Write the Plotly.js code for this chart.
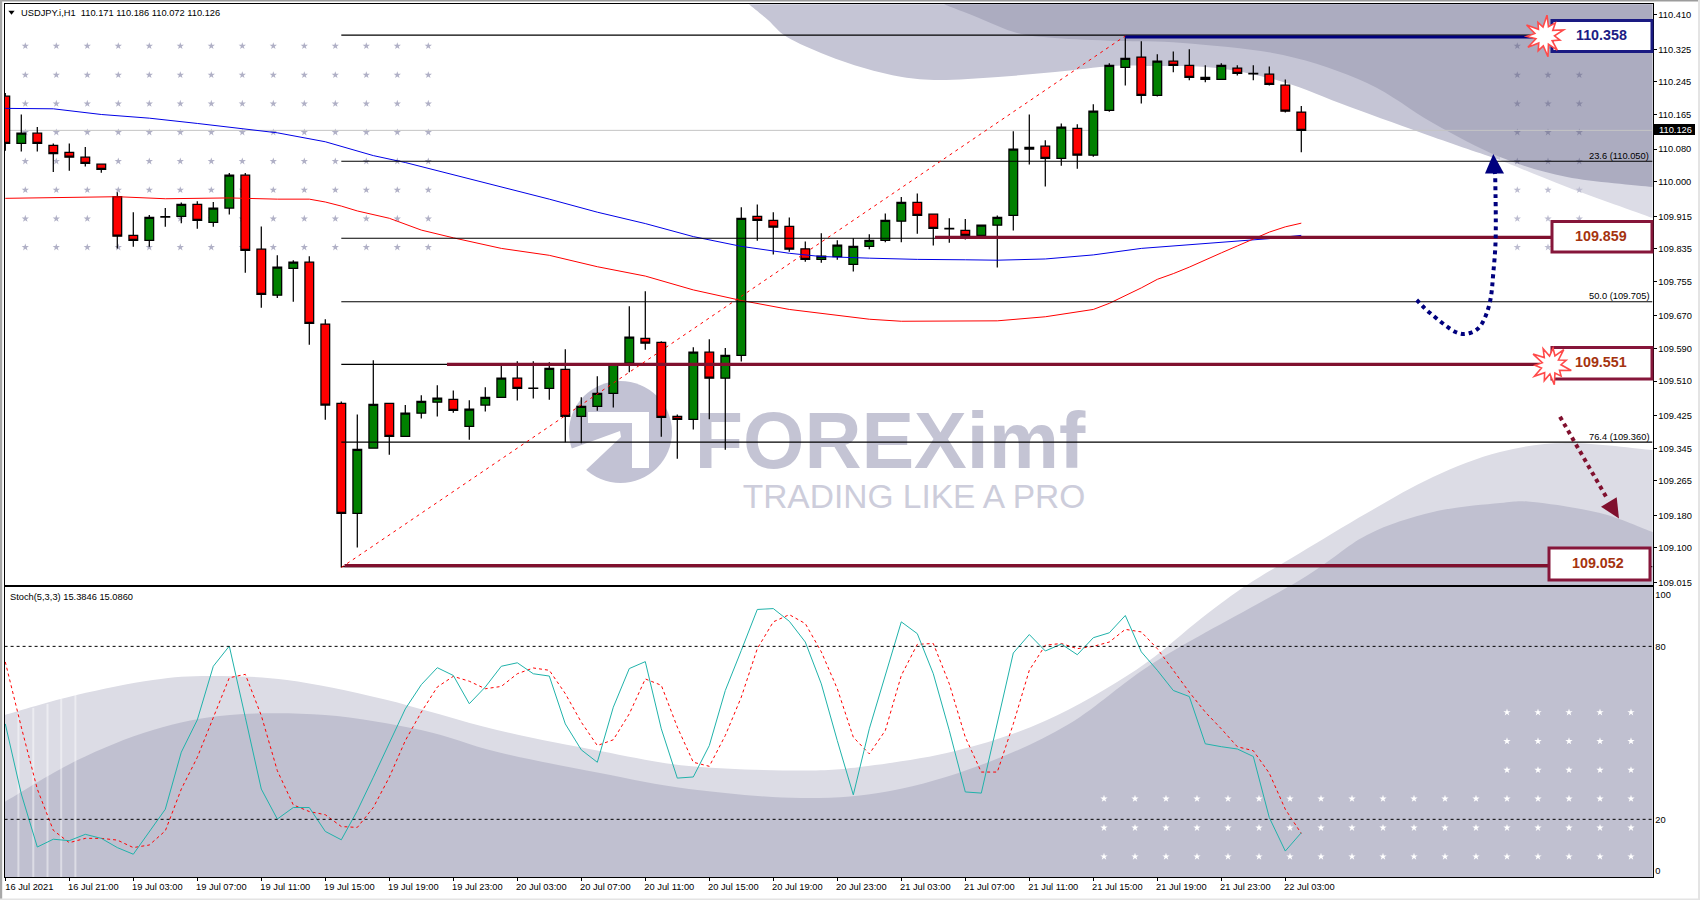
<!DOCTYPE html>
<html><head><meta charset="utf-8">
<script src="https://cdn.plot.ly/plotly-3.0.1.min.js"></script>
<style>html,body{margin:0;padding:0;background:#fff}#c{width:1700px;height:900px}</style>
</head><body><div id="c"></div>
<script>
const instrument = "USDJPY.i,H1  110.171 110.186 110.072 110.126";
const stochTitle = "Stoch(5,3,3) 15.3846 15.0860";
const open  = [110.210,110.094,110.119,110.089,110.072,110.060,110.043,109.963,109.868,109.856,109.913,109.915,109.944,109.900,109.935,110.016,109.834,109.721,109.787,109.802,109.650,109.455,109.185,109.345,109.455,109.374,109.431,109.458,109.465,109.399,109.451,109.470,109.517,109.492,109.492,109.539,109.423,109.448,109.480,109.554,109.615,109.605,109.423,109.416,109.581,109.517,109.573,109.915,109.905,109.890,109.835,109.809,109.816,109.797,109.841,109.856,109.903,109.949,109.920,109.884,109.880,109.868,109.893,109.917,110.080,110.087,110.057,110.131,110.065,110.175,110.281,110.306,110.212,110.296,110.286,110.256,110.251,110.279,110.265,110.264,110.237,110.171];
const high  = [110.218,110.165,110.134,110.094,110.094,110.085,110.043,109.974,109.925,109.918,109.935,109.949,109.952,109.950,110.021,110.021,109.890,109.819,109.807,109.817,109.662,109.460,109.428,109.561,109.455,109.451,109.475,109.500,109.487,109.463,109.495,109.551,109.559,109.559,109.556,109.588,109.470,109.522,109.552,109.694,109.731,109.608,109.428,109.593,109.613,109.591,109.937,109.944,109.925,109.912,109.853,109.873,109.856,109.861,109.871,109.922,109.962,109.971,109.922,109.910,109.908,109.893,109.917,110.124,110.165,110.102,110.143,110.141,110.190,110.291,110.358,110.345,110.313,110.320,110.325,110.286,110.291,110.286,110.286,110.283,110.251,110.186];
const low   = [110.076,110.074,110.074,110.024,110.027,110.037,110.022,109.836,109.840,109.840,109.889,109.898,109.884,109.889,109.919,109.776,109.690,109.714,109.705,109.599,109.415,109.052,109.101,109.345,109.329,109.374,109.418,109.423,109.432,109.366,109.435,109.470,109.462,109.467,109.464,109.360,109.357,109.437,109.445,109.532,109.587,109.373,109.319,109.391,109.416,109.341,109.558,109.855,109.821,109.828,109.803,109.801,109.808,109.779,109.834,109.851,109.851,109.872,109.843,109.850,109.858,109.868,109.789,109.880,110.042,109.988,110.039,110.032,110.061,110.172,110.236,110.192,110.209,110.269,110.249,110.244,110.251,110.261,110.249,110.236,110.170,110.072];
const close = [110.094,110.119,110.094,110.069,110.060,110.045,110.030,109.866,109.856,109.912,109.914,109.944,109.905,109.935,110.016,109.831,109.723,109.790,109.802,109.652,109.451,109.185,109.342,109.453,109.374,109.431,109.460,109.468,109.438,109.441,109.470,109.517,109.492,109.493,109.541,109.423,109.448,109.480,109.552,109.618,109.603,109.421,109.416,109.581,109.517,109.573,109.910,109.905,109.888,109.834,109.809,109.817,109.844,109.841,109.856,109.905,109.949,109.917,109.885,109.885,109.868,109.893,109.912,110.080,110.084,110.057,110.134,110.065,110.173,110.286,110.303,110.212,110.296,110.286,110.256,110.251,110.286,110.266,110.266,110.239,110.173,110.126];
const stochMain   = [53.1,28.8,10.4,13.1,12.6,14.8,13.4,10.2,7.9,15.8,23.5,43.3,54.5,73.1,80.1,55.4,30.5,20.1,24.1,24.1,15.8,12.9,23,34.6,46.2,58.3,66.7,72.6,69.9,60.1,65.9,73.1,74.3,70.5,69.7,53.1,44.1,39.8,58.9,72.3,74.7,51.4,34.3,34.7,45.6,64.7,78.6,92.8,93.1,88.7,81.5,67,47.3,28.5,51.4,69.9,88.5,84.4,70.5,50.8,29.5,29.1,53.1,77.7,84.1,78.4,80.8,77.1,83,84.7,90.7,78.1,71.7,64.7,62.6,46.2,45.2,44.4,41.8,20.6,9,15.38];
const stochSignal = [74.6,52,30.5,16.2,11.9,13.4,13.4,12.8,10.2,11.1,16,30.5,41.5,55.4,69.1,70.3,56,36.9,25,22.7,21.6,17.5,17.2,24.1,34.6,47.3,57.2,65.9,69.6,67.9,65.3,66.1,70.5,72.5,71.7,63.6,53.7,45.6,47.6,56.6,68.7,66.5,52,39.8,38.4,49.1,62.4,79.2,88.5,91,87.9,78.1,65.3,48.5,42.7,50.8,69.9,80.7,81,67,48.5,36.4,36.4,53.1,71.7,80.4,81,79.2,80,81.5,85.9,85,79.2,71.7,64.1,57.2,51.4,45.2,43.8,36,23.5,15.09];
const maBlueBar = [0,3,6,9,12,15,17,20,23,25,28,31,34,37,40,43,46,49,51,54,57,60,62,65,68,71,74,77,79,81];
const maBlue    = [110.180,110.179,110.165,110.156,110.143,110.129,110.120,110.098,110.064,110.047,110.017,109.988,109.957,109.925,109.897,109.865,109.841,109.824,109.816,109.812,109.809,109.808,109.807,109.810,109.820,109.836,109.845,109.854,109.860,109.868];
const maRedBar = [0,3,5,7,10,14,17,19,20,21,22,24,26,28,31,34,37,40,43,46,49,52,54,56,60,62,65,67,68,69,70,71,72,73,74,75,76,77,78,79,80,81];
const maRed    = [109.959,109.961,109.963,109.963,109.958,109.960,109.957,109.957,109.950,109.940,109.928,109.910,109.881,109.862,109.836,109.819,109.791,109.768,109.734,109.708,109.686,109.672,109.662,109.657,109.658,109.658,109.668,109.681,109.686,109.701,109.719,109.739,109.760,109.774,109.790,109.808,109.825,109.842,109.858,109.876,109.889,109.898];
const priceTicks = [110.410,110.325,110.245,110.165,110.080,110.000,109.915,109.835,109.755,109.670,109.590,109.510,109.425,109.345,109.265,109.180,109.100,109.015];
const timeTickBars = [0,4,8,12,16,20,24,28,32,36,40,44,48,52,56,60,64,68,72,76,80];
const timeTicks = ["16 Jul 2021","16 Jul 21:00","19 Jul 03:00","19 Jul 07:00","19 Jul 11:00","19 Jul 15:00","19 Jul 19:00","19 Jul 23:00","20 Jul 03:00","20 Jul 07:00","20 Jul 11:00","20 Jul 15:00","20 Jul 19:00","20 Jul 23:00","21 Jul 03:00","21 Jul 07:00","21 Jul 11:00","21 Jul 15:00","21 Jul 19:00","21 Jul 23:00","22 Jul 03:00"];
const fibLevels = [110.360,110.050,109.861,109.705,109.551,109.360,109.054];
const fibLabels = ["23.6 (110.050)","50.0 (109.705)","76.4 (109.360)"];
const fibLabelLevels = [110.050,109.705,109.360];
const lastPrice = 110.126;
const keyLevels = ["110.358","109.859","109.551","109.052"];

/* ---------- layout geometry ---------- */
const W=1700,H=900;
const L=4.6,R=1652.5,T1=4.3,B1=585,T2=587,B2=877;
const pxBar=p=>(p-5.3)/16;
const xRange=[pxBar(L),pxBar(R)];
const price=p=>110.05+(161.3-p)*0.002457;
const px=x=>(x/W).toFixed(5), py=y=>(1-y/H).toFixed(5);
const pt=p=>px(p[0])+','+py(p[1]);
const FONT='"Liberation Sans", Arial, sans-serif';

function curve(pts){
  let d='M'+pt(pts[0]);
  for(let i=0;i<pts.length-1;i++){
    const a=pts[Math.max(0,i-1)],b=pts[i],c=pts[i+1],e=pts[Math.min(pts.length-1,i+2)];
    const c1=[b[0]+(c[0]-a[0])/6,b[1]+(c[1]-a[1])/6],c2=[c[0]-(e[0]-b[0])/6,c[1]-(e[1]-b[1])/6];
    d+=' C'+pt(c1)+' '+pt(c2)+' '+pt(c);
  }
  return d;
}
const poly=(pts)=>'M'+pts.map(pt).join(' L')+' Z';
const pathShape=(d,fill,layer,line)=>({type:'path',xref:'paper',yref:'paper',path:d,fillcolor:fill,layer:layer||'below',line:line||{width:0}});
const rect=(x0,y0,x1,y1,fill,layer,line)=>({type:'rect',xref:'paper',yref:'paper',x0:x0/W,x1:x1/W,y0:1-y1/H,y1:1-y0/H,fillcolor:fill,layer:layer||'below',line:line||{width:0}});

/* ---------- background swooshes ---------- */
const lowLight=[[4.6,715],[76.5,695],[153,680],[210,676],[287,680],[383,699],[497,730],[600,751],[689,766],[801,770.6],[868,766],[957,750.6],[1046,720.5],[1136,670],[1203,617],[1247,585],[1300,553],[1367,513],[1433,477],[1500,452],[1567,443],[1652.5,450]];
const lowDark=[[4.6,802],[76.5,760.6],[153,730],[230,715],[325,715],[421,730],[497.5,752],[600,773],[689,789],[801,798],[890,791],[979.5,765.6],[1069,724],[1158,660],[1300,580],[1367,535],[1433,512],[1500,503],[1533,502],[1600,513],[1652.5,532]];
const upLightA=[[749,T1],[768,20],[787,37],[826,55],[864,68],[902,77],[940,80],[998,77],[1055,72],[1113,66],[1150,66],[1217,68],[1283,82],[1350,107],[1433,137],[1500,160]];
const upLightB=[[1500,160],[1567,187],[1652.5,218]];
const upDark=[[944,T1],[979,18],[1017,33],[1055,38],[1117,41],[1183,43],[1283,55],[1367,83],[1433,123],[1500,157],[1567,177],[1652.5,187]];
const shapes=[
  pathShape(curve(upLightA)+' L'+pt([1500,T1])+' Z','#c5c5d5'),
  pathShape(curve(upLightB)+' L'+pt([1652.5,T1])+' L'+pt([1500,T1])+' Z','#dcdce6'),
  pathShape(curve(upDark)+' L'+pt([1652.5,T1])+' Z','#acacc0'),
  pathShape(curve(lowLight)+' L'+pt([1652.5,B2])+' L'+pt([4.6,B2])+' Z','#dcdce5'),
  pathShape(curve(lowDark)+' L'+pt([1652.5,B2])+' L'+pt([4.6,B2])+' Z','#c0c0d0'),
  rect(L,B1,R,T2,'#ffffff'),
];
[[18.4,713],[33.3,708],[47.5,704],[61.2,699],[75.4,695]].forEach(s=>shapes.push(rect(s[0]-1,s[1],s[0]+1,B2,'rgba(255,255,255,0.45)')));

/* logo disc */
shapes.push({type:'circle',xref:'paper',yref:'paper',x0:569/W,x1:672/W,y0:1-483/H,y1:1-381/H,fillcolor:'#c2c2d4',line:{width:0},layer:'below'});
shapes.push(pathShape(poly([[588,412],[649,412],[649,468],[632,468],[632,423],[588,423]]),'#ffffff'));
shapes.push(pathShape(poly([[565,451],[620,431],[621,437],[586,470],[575,470]]),'#ffffff'));

/* window frame */
shapes.push(rect(0,0,W,1.6,'#9c9c9c','above'),rect(0,0,2.2,H,'#a8a8a8','above'),rect(1698,0,W,H,'#e4e4e4','above'),rect(0,898.4,W,H,'#e4e4e4','above'));
shapes.push(pathShape(poly([[8.4,10.7],[14.6,10.7],[11.5,14.7]]),'#000','above'));

/* last price line */
shapes.push({type:'line',xref:'x2',yref:'y2',x0:xRange[0],x1:xRange[1],y0:lastPrice,y1:lastPrice,layer:'below',line:{color:'#c4c4c4',width:1}});
/* fibo levels */
fibLevels.forEach(v=>shapes.push({type:'line',xref:'x2',yref:'y2',x0:21,x1:xRange[1],y0:v,y1:v,layer:'above',line:{color:'#000',width:1.1}}));
/* thick key levels */
const thick=(v,x0,x1,c)=>({type:'line',xref:'x2',yref:'y2',x0:pxBar(x0),x1:pxBar(x1),y0:v,y1:v,layer:'above',line:{color:c,width:3.2}});
const NAVY='#00007e',MAROON='#80102e';
shapes.push(thick(price(37),1125,1540,NAVY),thick(price(237.3),935,1552,MAROON),thick(price(364.3),447,1540,MAROON),thick(price(565.7),344.5,1549,MAROON));
/* fibo diagonal */
shapes.push({type:'line',xref:'x2',yref:'y2',x0:21,x1:70,y0:109.052,y1:110.358,layer:'above',line:{color:'#ff0000',width:1,dash:'3px,4px'}});
/* stochastic levels */
[80,20].forEach(v=>shapes.push({type:'line',xref:'x3',yref:'y3',x0:xRange[0],x1:xRange[1],y0:v,y1:v,layer:'above',line:{color:'#000',width:1,dash:'3px,3px'}}));

/* boxes */
const box=(x0,y0,x1,y1,c)=>rect(x0,y0,x1,y1,'#ffffff','above',{color:c,width:3});
shapes.push(box(1552,20.5,1652,51.5,'#1a1a82'),box(1552,221.5,1652,252,'#86163a'),box(1552,347.5,1652,379,'#86163a'),box(1549,548,1650,580,'#86163a'));
/* stars */
function star(cx,cy,rs){const n=rs.length;const pts=rs.map((r,i)=>{const a=-Math.PI/2+0.12+i*2*Math.PI/n;return [cx+r*Math.cos(a),cy+r*Math.sin(a)]});return pathShape(poly(pts),'#ffffff','above',{color:'#ff4a4a',width:1.6});}
const starA=[21,10,17,10,20,10,16,9,19,9,21,10,16,9,20,9,18,10,21,9,15,9];
const starB=[17,10,20,9,16,10,21,10,15,9,20,9,17,10,20,10,16,9,21,10,18,9];
shapes.push(star(1544.5,36,starA),star(1551,365,starB));

/* forecast arrows */
const dots=(d,c)=>({type:'path',xref:'paper',yref:'paper',path:d,layer:'above',line:{color:c,width:4,dash:'4px,4px'}});
shapes.push(dots(curve([[1416.7,300],[1430,313],[1455,331.7],[1470,333],[1481.7,324],[1490,301.7],[1493.3,273],[1495.7,236.7],[1495.3,181.7],[1494.5,170]]),NAVY));
shapes.push(pathShape(poly([[1493.3,154],[1504,173.5],[1485,173.5]]),NAVY,'above'));
shapes.push(dots('M'+pt([1560,416.7])+' L'+pt([1608,500]),MAROON));
shapes.push(pathShape(poly([[1619,518.5],[1601,506.7],[1616.7,497.3]]),MAROON,'above'));
shapes.push(rect(1654,124,1695,135,'#000','above'));

/* ---------- annotations ---------- */
const note=(text,x,y,opts)=>Object.assign({text,xref:'paper',yref:'paper',x:x/W,y:1-y/H,showarrow:false,xanchor:'left',yanchor:'middle',borderpad:0,font:{family:FONT,size:9.3,color:'#000'}},opts||{});
const bold=(c)=>({xanchor:'center',font:{family:FONT,size:14.3,color:c}});
const annotations=[
  note(instrument,19.5,12.7),
  note(stochTitle,9.2,597),
  note('<b>'+keyLevels[0]+'</b>',1601,35,bold('#1c1c84')),
  note('<b>'+keyLevels[1]+'</b>',1601,236,bold('#a5330f')),
  note('<b>'+keyLevels[2]+'</b>',1600.7,362,bold('#a5330f')),
  note('<b>'+keyLevels[3]+'</b>',1598,562.7,bold('#a5330f')),
  note(String(lastPrice),1658,129.6,{font:{family:FONT,size:9.3,color:'#fff'}}),
];
fibLabels.forEach((t,i)=>annotations.push({text:t,xref:'paper',yref:'y2',x:1651/W,y:fibLabelLevels[i],yshift:5.5,showarrow:false,xanchor:'right',yanchor:'middle',font:{family:FONT,size:9.3,color:'#000'}}));

/* ---------- decorative dots ---------- */
const rows=[46,75,103.7,132.3,161.3,190,218.7,247.3];
const dotTrace=(xs,ys,c,s)=>{const X=[],Y=[];ys.forEach(y=>xs.forEach(x=>{X.push(x);Y.push(y)}));return {type:'scatter',mode:'markers',xaxis:'x',yaxis:'y',x:X,y:Y,marker:{symbol:'star',color:c,size:s,line:{width:0}},hoverinfo:'skip'};};
const leftCols=Array.from({length:14},(_,i)=>25.3+31*i);
const rightCols=[1517.3,1548,1579.3];
const whiteTop=Array.from({length:5},(_,i)=>1507+31*i);
const whiteBot=Array.from({length:18},(_,i)=>1104+31*i);

const mainAxis=(extra)=>Object.assign({showgrid:false,zeroline:false,showline:true,mirror:true,linecolor:'#000',linewidth:1,fixedrange:true},extra);
const tickFont={family:FONT,size:9.3,color:'#000'};

const traces=[
  dotTrace(leftCols,rows,'#b0b0c6',5.5),
  dotTrace(rightCols,rows.slice(0,5),'#8888a4',5.5),
  dotTrace(rightCols,rows.slice(5),'#bcbcd0',5.5),
  dotTrace(whiteTop,[712.4,741.2,770],'#ffffff',5.5),
  dotTrace(whiteBot,[798.7,827.8,856.6],'#ffffff',5.5),
  {type:'scatter',mode:'text',xaxis:'x',yaxis:'y',x:[890],y:[448],text:['FOREXimf'],textposition:'middle center',textfont:{family:FONT,size:79,color:'#c4c4d4',weight:700},hoverinfo:'skip'},
  {type:'scatter',mode:'text',xaxis:'x',yaxis:'y',x:[914],y:[499.5],text:['TRADING LIKE A PRO'],textposition:'middle center',textfont:{family:FONT,size:33.5,color:'#cdcddb'},hoverinfo:'skip'},
  {type:'candlestick',xaxis:'x2',yaxis:'y2',x:open.map((_,i)=>i),open,high,low,close,
    whiskerwidth:0,
    increasing:{line:{color:'#000',width:1.25},fillcolor:'#008000'},
    decreasing:{line:{color:'#000',width:1.25},fillcolor:'#ff0000'},hoverinfo:'skip'},
  {type:'scatter',mode:'lines',xaxis:'x2',yaxis:'y2',x:maBlueBar,y:maBlue,line:{color:'#0000e6',width:1},hoverinfo:'skip'},
  {type:'scatter',mode:'lines',xaxis:'x2',yaxis:'y2',x:maRedBar,y:maRed,line:{color:'#ff0000',width:1},hoverinfo:'skip'},
  {type:'scatter',mode:'lines',xaxis:'x3',yaxis:'y3',x:stochSignal.map((_,i)=>i),y:stochSignal,line:{color:'#ff0000',width:1,dash:'3px,3px'},hoverinfo:'skip'},
  {type:'scatter',mode:'lines',xaxis:'x3',yaxis:'y3',x:stochMain.map((_,i)=>i),y:stochMain,line:{color:'#20b2aa',width:1},hoverinfo:'skip'},
];

const layout={
  width:W,height:H,margin:{l:0,r:0,t:0,b:0},autosize:false,showlegend:false,
  paper_bgcolor:'#ffffff',plot_bgcolor:'rgba(0,0,0,0)',boxgap:0.22,hovermode:false,dragmode:false,
  xaxis:{domain:[0,1],range:[0,W],visible:false,fixedrange:true},
  yaxis:{domain:[0,1],range:[H,0],visible:false,fixedrange:true},
  xaxis2:mainAxis({domain:[L/W,R/W],range:xRange,anchor:'y2',type:'linear',rangeslider:{visible:false},showticklabels:false,ticks:''}),
  yaxis2:mainAxis({domain:[1-B1/H,1-T1/H],range:[price(B1),price(T1)],anchor:'x2',side:'right',type:'linear',tickmode:'array',tickvals:priceTicks,ticktext:priceTicks.map(v=>v.toFixed(3)),ticks:'outside',ticklen:3,tickcolor:'#000',tickfont:tickFont}),
  xaxis3:mainAxis({domain:[L/W,R/W],range:xRange,anchor:'y3',type:'linear',tickmode:'array',tickvals:timeTickBars,ticktext:timeTicks,ticks:'outside',ticklen:3,tickcolor:'#000',tickfont:tickFont,ticklabelshift:24,ticklabelstandoff:-2,tickangle:0}),
  yaxis3:mainAxis({domain:[1-B2/H,1-T2/H],range:[0,(B2-T2)/2.883],anchor:'x3',side:'right',type:'linear',tickmode:'array',tickvals:[2.1,20,80,97.9],ticktext:['0','20','80','100'],ticks:'',tickfont:tickFont}),
  shapes,annotations
};
Plotly.newPlot('c',traces,layout,{displayModeBar:false,staticPlot:true});
</script></body></html>
